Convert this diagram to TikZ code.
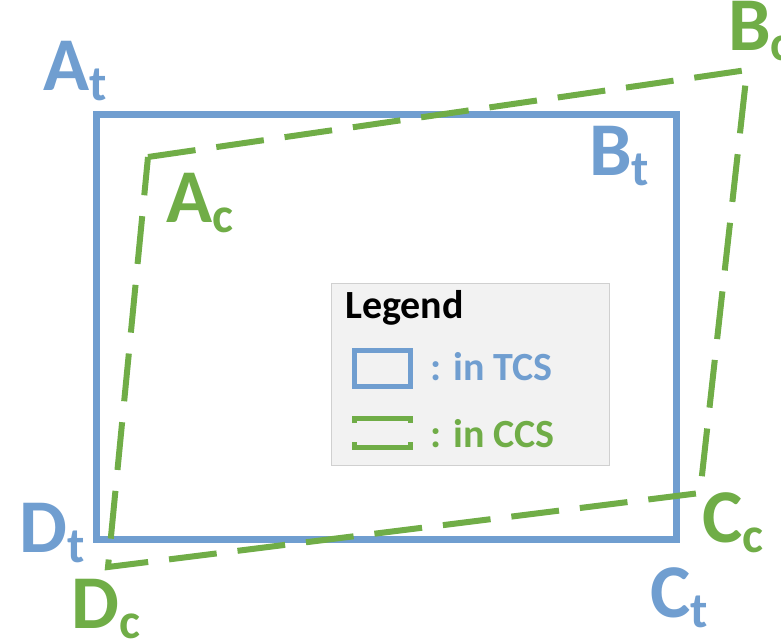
\documentclass[tikz,border=0pt]{standalone}
\usepackage{fontspec}
\setmainfont{Carlito}
\usetikzlibrary{positioning}
\definecolor{tcsblue}{RGB}{112,158,208}
\definecolor{ccsgreen}{RGB}{112,173,71}
\definecolor{legendfill}{RGB}{242,242,242}
\definecolor{legenddraw}{RGB}{208,208,208}
\newcommand{\vtx}[2]{#1\raisebox{-10pt}{\fontsize{50}{50}\selectfont #2}}
\tikzstyle{tcs} = [draw=tcsblue, line width=7pt]
\tikzstyle{ccs} = [draw=ccsgreen, line width=6pt, dash pattern=on 48pt off 21pt]
\tikzstyle{vlabel} = [font=\fontsize{76}{76}\selectfont\bfseries, anchor=base west, inner sep=0pt]
\tikzstyle{legtext} = [font=\fontsize{40}{40}\selectfont\bfseries, anchor=base west, inner sep=0pt]

\begin{document}
\begin{tikzpicture}[x=1pt, y=-1pt]

		\useasboundingbox (0,0) rectangle (781,643);

		% target rectangle
		\draw [tcs] (96,114) rectangle (676,539);

		% camera quadrilateral
		\coordinate (ac) at (148,157);
		\coordinate (bc) at (747,70);
		\coordinate (cc) at (700,493);
		\coordinate (dc) at (108,567);
		\draw [ccs, line join=miter] (ac) -- (bc) -- (cc) -- (dc) -- cycle;

		% corner names
		\node (at_lbl) [vlabel, text=tcsblue] at (43,90) {\vtx{A}{t}};
		\node (bt_lbl) [vlabel, text=tcsblue] at (589,175) {\vtx{B}{t}};
		\node (ct_lbl) [vlabel, text=tcsblue] at (650,617) {\vtx{C}{t}};
		\node (dt_lbl) [vlabel, text=tcsblue] at (19,552) {\vtx{D}{t}};
		\node (ac_lbl) [vlabel, text=ccsgreen] at (166,222) {\vtx{A}{c}};
		\node (bc_lbl) [vlabel, text=ccsgreen] at (728,50) {\vtx{B}{c}};
		\node (cc_lbl) [vlabel, text=ccsgreen] at (702,542) {\vtx{C}{c}};
		\node (dc_lbl) [vlabel, text=ccsgreen] at (71,628) {\vtx{D}{c}};

		% legend
		\draw [fill=legendfill, draw=legenddraw, line width=1pt] (331,283) rectangle (609,465);
		\node (leg_head) [legtext] at (345,318) {Legend};
		\draw [tcs, line width=5pt] (354,350) rectangle (410,386);
		\node (leg_tcs) [legtext, text=tcsblue] at (430,380) {: in TCS};
		\draw [draw=ccsgreen, line width=5pt] (354,423) -- (354,418) -- (410,418) -- (410,423);
		\draw [draw=ccsgreen, line width=5pt] (354,442) -- (354,447) -- (410,447) -- (410,442);
		\node (leg_ccs) [legtext, text=ccsgreen] at (430,447) {: in CCS};

	\end{tikzpicture}
\end{document}
